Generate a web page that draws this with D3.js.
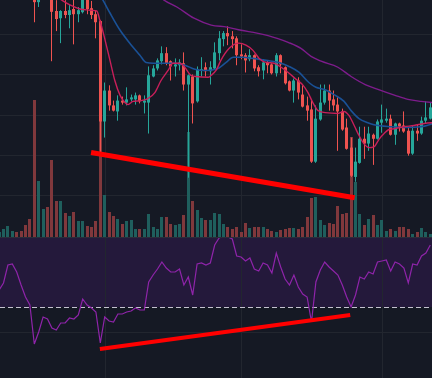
<!DOCTYPE html>
<html>
<head>
<meta charset="utf-8">
<script src="https://d3js.org/d3.v7.min.js"></script>
<style>
  html, body { margin: 0; padding: 0; background: #151924; }
  svg { display: block; }
</style>
</head>
<body>
<div id="chart"></div>
<script>
// candle data (index 0..98), prices
var openP = [2370,2380,2390,2405,2410,2400,2390,2360,2330,2280,
  2310,2330,2305,2258,2240,2258,2248,2263,2250,2255,
  2292,2265,2250,2233,1983,2060,2023,2008,2035,2030,
  2038,2038,2048,2030,2030,2095,2115,2133,2153,2133,
  2120,2123,2128,2075,2095,2033,2110,2118,2108,2115,
  2153,2188,2203,2195,2190,2150,2148,2138,2148,2118,
  2110,2130,2125,2103,2148,2118,2083,2060,2085,2050,
  2023,2013,1883,1988,2030,2060,2038,2025,2008,1968,
  1918,1845,1880,1940,1928,1950,1940,1980,1985,1990,
  1950,1978,1973,1960,1903,1960,1953,1985,1990];
var closeP = [2380,2390,2405,2410,2400,2390,2360,2330,2280,2310,
  2330,2315,2256,2238,2258,2248,2260,2250,2260,2290,
  2263,2248,2230,1983,2060,2023,2010,2035,2030,2038,
  2043,2048,2033,2035,2098,2115,2135,2153,2128,2120,
  2125,2130,2075,2098,2028,2113,2113,2108,2118,2155,
  2190,2203,2195,2188,2148,2145,2135,2148,2115,2108,
  2130,2123,2103,2148,2125,2078,2060,2085,2055,2020,
  2010,1883,1990,2030,2060,2035,2023,2008,1963,1915,
  1848,1883,1940,1928,1953,1940,1983,1988,1990,1950,
  1978,1970,1958,1903,1960,1953,1985,1993,2018];
var highP = [2395,2400,2415,2420,2420,2410,2400,2370,2340,2320,
  2340,2345,2335,2285,2260,2285,2273,2290,2268,2298,
  2305,2283,2260,2235,2080,2073,2035,2048,2045,2068,
  2050,2055,2050,2048,2120,2123,2140,2170,2168,2135,
  2140,2138,2155,2100,2100,2120,2143,2130,2133,2180,
  2208,2208,2220,2208,2195,2175,2153,2163,2150,2123,
  2138,2135,2128,2153,2150,2120,2085,2090,2093,2073,
  2045,2035,2023,2075,2075,2075,2060,2043,2015,1990,
  1943,1918,1970,1970,1970,1953,1988,2025,2015,2000,
  1980,1980,2008,1968,1973,1975,1995,2033,2030];
var lowP = [2350,2365,2380,2390,2390,2380,2350,2320,2230,2268,
  2295,2300,2133,2208,2178,2240,2215,2175,2230,2252,
  2250,2238,2190,1903,1943,2010,2008,1985,2025,2023,
  2033,2025,2028,2003,1953,2093,2110,2125,2123,2085,
  2095,2110,2060,1843,1978,2030,2095,2095,2075,2113,
  2135,2170,2173,2165,2123,2138,2105,2133,2108,2095,
  2088,2103,2100,2095,2103,2075,2058,2030,2038,2018,
  1985,1880,1880,1985,2025,2010,2010,1910,1960,1913,
  1845,1833,1878,1890,1910,1875,1938,1955,1980,1948,
  1925,1958,1955,1898,1900,1935,1950,1978,1988];
var volume = [50,80,110,60,50,60,120,180,1370,560,
  280,300,770,360,360,240,210,250,160,160,
  110,100,160,1420,420,250,210,180,130,160,
  170,80,80,80,230,100,80,200,200,130,
  120,130,220,1050,360,270,190,170,170,240,
  230,130,100,80,100,50,140,90,100,100,
  100,80,60,50,70,80,90,90,80,100,
  200,390,400,170,120,140,130,310,230,240,
  1000,550,230,120,180,220,120,170,60,80,
  60,100,100,80,30,50,90,50,30];
var rsi = [36.8,39.6,46.8,47.2,44,38.8,34,30.8,15.2,20,
  26,25.2,21.6,20.8,23.6,23.6,25.6,25.2,26.8,33.2,
  30.8,29.6,28,15.6,26,24.4,24,27.2,27.2,28,
  28.4,29.6,28.8,28.8,40,42.8,45.2,48,45.6,44,
  44,45.2,38.8,42,34.8,47.2,47.6,46.8,47.6,54.8,
  57.6,58.4,58,57.2,50.4,50,48.4,49.6,45.2,44.4,
  47.6,46.8,43.6,51.6,46,41.2,38.8,42.8,38,35.2,
  34,24,40,44.8,48,46,44.4,42.8,38.8,34,
  30,34.8,42,41.2,44,43.2,48,48.4,48.8,44.4,
  48,47.2,45.6,39.6,47.2,46.8,50.4,51.6,54.8];

// moving averages as [candle index, price]
var maFast = [[12.7,2298],[14.5,2283],[16.1,2273],[18.4,2263],[20.7,2260],[22.2,2258],[22.9,2235],
  [24.1,2185],[25.2,2135],[26.3,2085],[27.5,2048],[28.6,2030],[29.3,2025],[30.4,2033],[32.2,2035],
  [33.8,2040],[35.4,2055],[36.8,2085],[38.4,2110],[39.5,2128],[41.1,2128],[42.2,2118],[43.6,2098],
  [44.7,2095],[47.5,2093],[48.2,2098],[49.3,2110],[50.4,2135],[52.3,2165],[54.5,2178],[56.1,2173],
  [57.7,2160],[59.1,2140],[60.7,2130],[62.5,2128],[64.1,2118],[65.7,2105],[67.5,2088],[69.1,2073],
  [70.2,2055],[71.3,2030],[72.5,2010],[74.1,2005],[77,2003],[78.4,2008],[79.5,1998],[80.7,1973],
  [81.8,1948],[82.9,1928],[84.1,1918],[85.2,1920],[86.3,1938],[87.5,1953],[88.6,1963],[89.8,1965],
  [92,1970],[94.3,1973],[96.6,1978],[98.6,1980]];
var maMid = [[22.5,2305],[23.6,2285],[25.2,2253],[27.5,2210],[29.7,2178],[32,2148],[33.4,2130],
  [35,2128],[38.4,2128],[40,2128],[42.2,2123],[44.5,2113],[46.8,2110],[49.3,2113],[51.6,2130],
  [53.2,2143],[55.4,2143],[57.7,2140],[60.7,2135],[63.6,2130],[65.9,2120],[68.2,2105],[70.4,2080],
  [72,2068],[73.8,2063],[76.1,2050],[78.4,2033],[80,2010],[81.8,1990],[83.8,1980],[85.2,1975],
  [89.1,1970],[92.7,1968],[95.9,1970],[98.6,1978]];
var maSlow = [[36.1,2298],[37.5,2285],[40.4,2268],[44.3,2240],[48.2,2223],[51.8,2218],[55,2210],
  [58.6,2203],[63.2,2190],[65.7,2180],[68.6,2165],[70.9,2145],[73.2,2133],[77,2118],[80,2095],
  [83.2,2075],[86.1,2063],[90,2048],[92.9,2038],[95.9,2033],[98.6,2030]];

var priceTicks = [1800, 1900, 2000, 2100, 2200];
var rsiTicks = [20, 40];
var timeTicks = [24, 55, 87];
var rsiBand = [30, 70];

// hand-drawn trend lines (candle index, value)
var priceTrend = [[20.9, 1906], [80.8, 1793]];
var rsiTrend = [[22.9, 13.2], [79.8, 26.8]];

var width = 432, height = 378;
var mainBottom = 237, rsiTop = 238;

var svg = d3.select("#chart").append("svg")
    .attr("width", width)
    .attr("height", height);

svg.append("rect").attr("width", width).attr("height", height).attr("fill", "#151924");

var defs = svg.append("defs");
defs.append("clipPath").attr("id", "clip-main")
    .append("rect").attr("x", 0).attr("y", 0).attr("width", width).attr("height", mainBottom);
defs.append("clipPath").attr("id", "clip-rsi")
    .append("rect").attr("x", 0).attr("y", rsiTop).attr("width", width).attr("height", height - rsiTop);

var x = d3.scaleLinear().domain([0, 98]).range([-0.9, 430.3]);
var yPrice = d3.scaleLinear().domain([1800, 2200]).range([195, 34.3]);
var yVol = d3.scaleLinear().domain([0, 1000]).range([mainBottom, 137]);
var yRsi = d3.scaleLinear().domain([20, 40]).range([332, 282]);

var up = "#26a69a", down = "#ef5350";
var upVol = "#1f5f5d", downVol = "#80383c";

// GRID
var grid = svg.append("g");
grid.selectAll(".hgrid").data(priceTicks).join("line")
    .attr("x1", 0).attr("x2", width)
    .attr("y1", d => Math.round(yPrice(d)) + 0.5).attr("y2", d => Math.round(yPrice(d)) + 0.5)
    .attr("stroke", "#22262f");
grid.selectAll(".rgrid").data(rsiTicks).join("line")
    .attr("x1", 0).attr("x2", width)
    .attr("y1", d => Math.round(yRsi(d)) + 0.5).attr("y2", d => Math.round(yRsi(d)) + 0.5)
    .attr("stroke", "#22262f");

// RSI BAND
svg.append("rect")
    .attr("clip-path", "url(#clip-rsi)")
    .attr("x", 0).attr("width", width)
    .attr("y", yRsi(rsiBand[1])).attr("height", yRsi(rsiBand[0]) - yRsi(rsiBand[1]))
    .attr("fill", "#24193b");

svg.append("g").selectAll("line").data(timeTicks).join("line")
    .attr("x1", d => Math.round(x(d)) + 0.5).attr("x2", d => Math.round(x(d)) + 0.5)
    .attr("y1", 0).attr("y2", height)
    .attr("stroke", "#22262f");

// VOLUME
var idx = d3.range(openP.length);
svg.append("g").selectAll("rect").data(idx).join("rect")
    .attr("x", i => Math.round(x(i) - 1.5))
    .attr("y", i => yVol(volume[i]))
    .attr("width", 3)
    .attr("height", i => mainBottom - yVol(volume[i]))
    .attr("fill", i => closeP[i] >= openP[i] ? upVol : downVol);

// pane separator
svg.append("rect").attr("x", 0).attr("y", mainBottom).attr("width", width).attr("height", 1)
    .attr("fill", "#2a2e3a");

// CANDLES
var candles = svg.append("g").attr("clip-path", "url(#clip-main)");
candles.selectAll(".wick").data(idx).join("rect")
    .attr("x", i => Math.round(x(i) - 1.5) + 1)
    .attr("y", i => yPrice(highP[i]))
    .attr("width", 1)
    .attr("height", i => yPrice(lowP[i]) - yPrice(highP[i]))
    .attr("fill", i => closeP[i] >= openP[i] ? up : down);
candles.selectAll(".body").data(idx).join("rect")
    .attr("x", i => Math.round(x(i) - 1.5))
    .attr("y", i => yPrice(Math.max(openP[i], closeP[i])))
    .attr("width", 3)
    .attr("height", i => Math.max(1, Math.abs(yPrice(openP[i]) - yPrice(closeP[i]))))
    .attr("fill", i => closeP[i] >= openP[i] ? up : down);

// MOVING AVERAGES
var maLine = d3.line().x(d => x(d[0])).y(d => yPrice(d[1])).curve(d3.curveMonotoneX);
var maG = svg.append("g").attr("clip-path", "url(#clip-main)").attr("fill", "none");
maG.append("path").attr("d", maLine(maSlow)).attr("stroke", "#7e1c8c").attr("stroke-width", 1.4);
maG.append("path").attr("d", maLine(maMid)).attr("stroke", "#1a5196").attr("stroke-width", 1.6);
maG.append("path").attr("d", maLine(maFast)).attr("stroke", "#c91f5a").attr("stroke-width", 1.4);

// RSI
svg.append("line")
    .attr("x1", 0).attr("x2", width)
    .attr("y1", Math.round(yRsi(rsiBand[0])) + 0.5).attr("y2", Math.round(yRsi(rsiBand[0])) + 0.5)
    .attr("stroke", "#c4c2cf").attr("stroke-dasharray", "5,3");
var rsiLine = d3.line().x((d, i) => x(i)).y(d => yRsi(d));
svg.append("path")
    .attr("clip-path", "url(#clip-rsi)")
    .attr("d", rsiLine(rsi))
    .attr("fill", "none").attr("stroke", "#8f24aa").attr("stroke-width", 1.2);

// TREND LINES
var trend = d3.line().x(d => x(d[0]));
svg.append("path")
    .attr("d", trend.y(d => yPrice(d[1]))(priceTrend))
    .attr("stroke", "#ff0000").attr("stroke-width", 5).attr("fill", "none");
svg.append("path")
    .attr("d", trend.y(d => yRsi(d[1]))(rsiTrend))
    .attr("stroke", "#ff0000").attr("stroke-width", 4).attr("fill", "none");
</script>
</body>
</html>
